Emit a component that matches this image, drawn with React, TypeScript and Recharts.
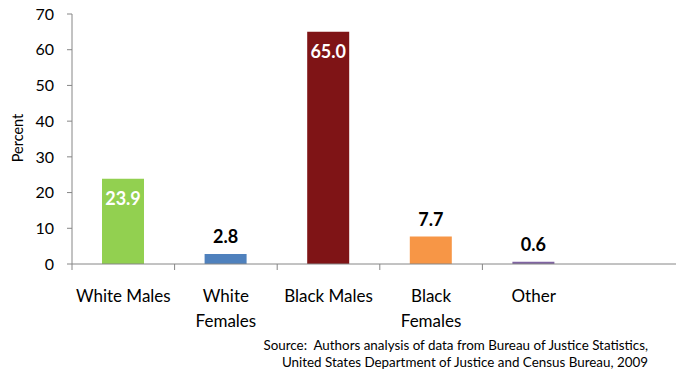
import { Bar, BarChart, Cell, LabelList, XAxis, YAxis } from "recharts";

const CATEGORIES = ["White Males", "White Females", "Black Males", "Black Females", "Other"];
const PERCENTS = [23.9, 2.8, 65.0, 7.7, 0.6];
const COLORS = ["#92D050", "#4F81BD", "#7F1416", "#F79646", "#8064A2"];
const Y_TICKS = [0, 10, 20, 30, 40, 50, 60, 70];
const SOURCE_LINES = [
  "Source:  Authors analysis of data from Bureau of Justice Statistics,",
  "United States Department of Justice and Census Bureau, 2009",
];

const data = CATEGORIES.map((name, i) => ({ name, value: PERCENTS[i] }));

const FONT = "Lato, 'Open Sans', sans-serif";
const AXIS = "#868686";
const WIDTH = 676;
const HEIGHT = 377;
const PLOT_LEFT = 72;
const BAND_AREA = 513; // width taken by the five categories
const HALF_BAND = BAND_AREA / CATEGORIES.length / 2;

// two-line category labels break at the space after the first word
function CategoryTick(props: any) {
  const { x, y, payload } = props;
  const words: string[] = String(payload.value).split(" ");
  const lines = payload.value === "White Males" || payload.value === "Black Males" || words.length === 1
    ? [payload.value]
    : [words[0], words.slice(1).join(" ")];
  return (
    <g>
      <line x1={x - HALF_BAND} x2={x - HALF_BAND} y1={y} y2={y + 6} stroke={AXIS} />
      {lines.map((line, i) => (
        <text key={i} x={x} y={y + 38 + i * 25} textAnchor="middle" fontSize={17} fill="#000" fontFamily={FONT}>
          {line}
        </text>
      ))}
    </g>
  );
}

// tall bars carry a white label inside their top, short ones a black label above
function ValueLabel(props: any) {
  const { x, y, width, value } = props;
  const inside = value > 20;
  return (
    <text
      x={x + width / 2}
      y={inside ? y + 26 : y - 11}
      textAnchor="middle"
      fontSize={18}
      fontWeight="bold"
      fill={inside ? "#fff" : "#000"}
      fontFamily={FONT}
    >
      {value.toFixed(1)}
    </text>
  );
}

function PercentLabel(props: any) {
  const { viewBox } = props;
  const cx = 17;
  const cy = viewBox.y + viewBox.height / 2 - 1;
  return (
    <text x={cx} y={cy} transform={`rotate(-90 ${cx} ${cy})`} textAnchor="middle" dominantBaseline="central"
      fontSize={14.5} fill="#000" fontFamily={FONT}>
      Percent
    </text>
  );
}

export default function App() {
  return (
    <div style={{ position: "absolute", left: 0, top: 0, width: WIDTH, height: HEIGHT, background: "#fff" }}>
      <BarChart width={WIDTH} height={HEIGHT} data={data} margin={{ top: 14, right: 0, bottom: 0, left: 22 }}>
        <XAxis
          dataKey="name"
          height={113}
          stroke={AXIS}
          tickLine={false}
          tickSize={0}
          tickMargin={0}
          interval={0}
          padding={{ left: 0, right: WIDTH - PLOT_LEFT - BAND_AREA }}
          tick={<CategoryTick />}
        />
        <YAxis
          width={50}
          domain={[0, 70]}
          ticks={Y_TICKS}
          stroke={AXIS}
          tickSize={5}
          tickMargin={13}
          tick={{ fill: "#000", fontSize: 16, fontFamily: FONT }}
          label={<PercentLabel />}
        />
        <Bar dataKey="value" barSize={42} isAnimationActive={false}>
          {data.map((d, i) => (
            <Cell key={d.name} fill={COLORS[i]} />
          ))}
          <LabelList dataKey="value" content={<ValueLabel />} />
        </Bar>
      </BarChart>
      <div
        style={{
          position: "absolute",
          right: 28,
          top: 337,
          textAlign: "right",
          fontFamily: FONT,
          fontSize: 13.4,
          lineHeight: "17px",
          color: "#000",
          whiteSpace: "pre",
        }}
      >
        {SOURCE_LINES.map((line) => (
          <div key={line}>{line}</div>
        ))}
      </div>
    </div>
  );
}
